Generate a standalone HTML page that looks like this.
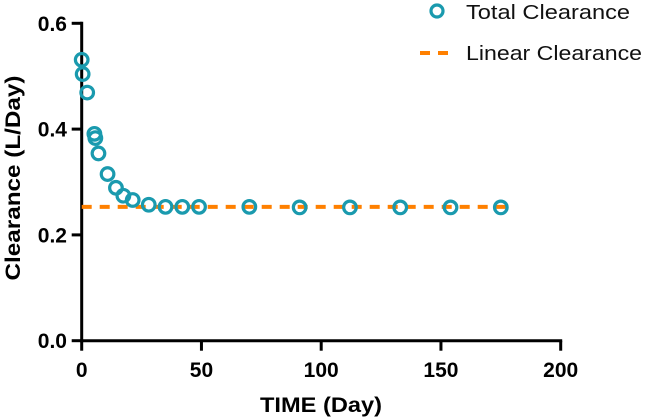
<!DOCTYPE html>
<html><head><meta charset="utf-8"><style>
body{margin:0;background:#fff;}
svg{display:block;font-family:"Liberation Sans",Arial,sans-serif;}
</style></head><body>
<svg width="645" height="420" viewBox="0 0 645 420">
<g id="axes"></g><g id="marks"></g>
<g>
  <circle cx="437" cy="11" r="6" fill="none" stroke="#1a9aae" stroke-width="3.2"/>
  <text x="466" y="19" font-size="20" textLength="164" lengthAdjust="spacingAndGlyphs" fill="#111">Total Clearance</text>
  <line x1="420" y1="53" x2="450" y2="53" stroke="#ff8000" stroke-width="4" stroke-dasharray="10,8"/>
  <text x="466" y="60" font-size="20" textLength="176" lengthAdjust="spacingAndGlyphs" fill="#111">Linear Clearance</text>
</g>
<text x="321" y="412" text-anchor="middle" font-size="21" font-weight="bold" textLength="122" lengthAdjust="spacingAndGlyphs">TIME (Day)</text>
<text transform="translate(20,178) rotate(-90)" text-anchor="middle" font-size="21" font-weight="bold" textLength="205" lengthAdjust="spacingAndGlyphs">Clearance (L/Day)</text>
</svg>
<script>
const times=[0,0.4,2.3,5.3,5.7,7,10.8,14.3,17.4,21.3,28,35,42,49,70,91,112,133,154,175];
const clearance=[0.531,0.504,0.469,0.391,0.383,0.354,0.315,0.289,0.274,0.266,0.257,0.253,0.253,0.253,0.253,0.252,0.252,0.252,0.252,0.252];
const linearValue=[0.253];
const linearRange=[0,178];
const xTicks=[0,50,100,150,200];
const yTicks=[0,0.2,0.4,0.6];
const yTickLabels=["0.0","0.2","0.4","0.6"];
const NS="http://www.w3.org/2000/svg";
const X=v=>81.7+v*2.395;
const Y=v=>340.7-v*529;
function mk(tag,attrs,parent){const e=document.createElementNS(NS,tag);for(const k in attrs)e.setAttribute(k,attrs[k]);parent.appendChild(e);return e;}
const ax=document.getElementById('axes'),mk2=document.getElementById('marks');
let e=mk('line',{x1:X(0),y1:Y(0.6)-1.5,x2:X(0),y2:Y(0)+1.5,stroke:'#000','stroke-width':3},ax);


e=mk('line',{x1:X(0)-1.5,y1:Y(0),x2:X(200)+1.5,y2:Y(0),stroke:'#000','stroke-width':3},ax);


xTicks.forEach(t=>{
 let l=mk('line',{x1:X(t),y1:Y(0),x2:X(t),y2:Y(0)+10,stroke:'#000','stroke-width':3},ax);
 
 
 let tx=mk('text',{x:X(t),y:377,'text-anchor':'middle','font-size':21,'font-weight':'bold'},ax);tx.textContent=t;
 
 
});
yTicks.forEach((t,i)=>{
 let l=mk('line',{x1:X(0)-10,y1:Y(t),x2:X(0),y2:Y(t),stroke:'#000','stroke-width':3},ax);
 
 
 let tx=mk('text',{x:67,y:Y(t)+7.5,'text-anchor':'end','font-size':21,'font-weight':'bold'},ax);tx.textContent=yTickLabels[i];
 
 
});
e=mk('line',{x1:X(linearRange[0]),y1:Y(linearValue[0]),x2:X(linearRange[1]),y2:Y(linearValue[0]),stroke:'#ff8000','stroke-width':4,'stroke-dasharray':'10,8'},mk2);


times.forEach((t,i)=>{
 let c=mk('circle',{cx:X(t),cy:Y(clearance[i]),r:6.3,fill:'none',stroke:'#1a9aae','stroke-width':3.2},mk2);
 
 
});
</script>
</body></html>
